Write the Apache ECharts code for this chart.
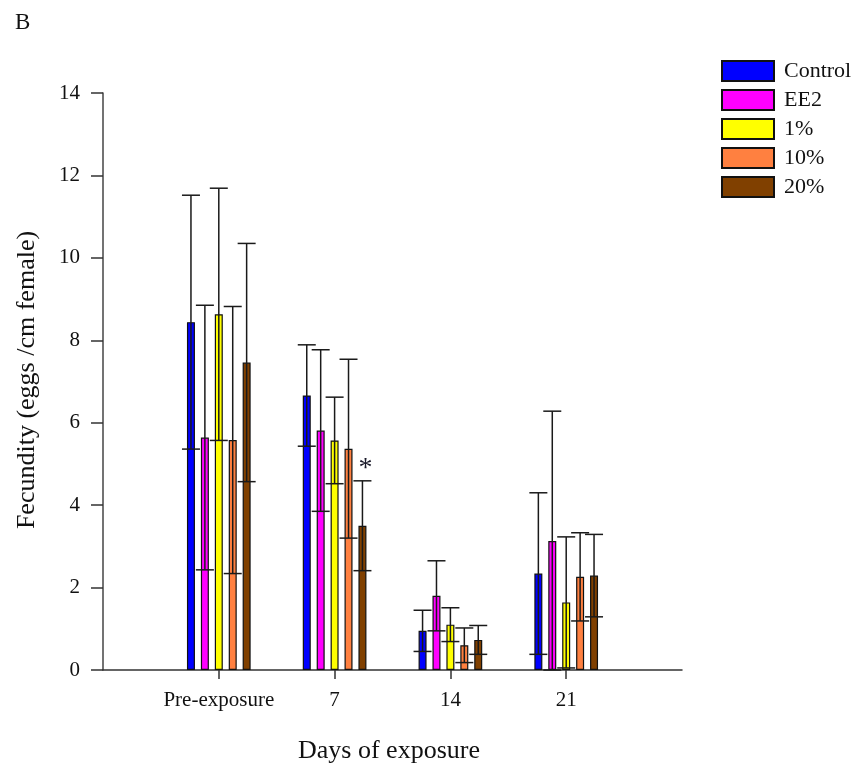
<!DOCTYPE html>
<html>
<head>
<meta charset="utf-8">
<title>Fecundity by days of exposure</title>
<script src="https://cdn.jsdelivr.net/npm/echarts@6/dist/echarts.min.js"></script>
<style>
  html, body { margin: 0; padding: 0; background: #fff; }
  #chart { width: 861px; height: 770px; }
</style>
</head>
<body>
<div id="chart"></div>
<script>
// Sampling days (x categories)
const days = ['Pre-exposure', '7', '14', '21'];
// Treatment groups, in legend order
const groups = ['Control', 'EE2', '1%', '10%', '20%'];

// Mean fecundity (eggs / cm female) and standard deviation per group
const controlMean = [8.44, 6.66, 0.95, 2.34];
const controlSD   = [3.08, 1.23, 0.50, 1.96];
const ee2Mean     = [5.64, 5.81, 1.80, 3.13];
const ee2SD       = [3.21, 1.96, 0.85, 3.15];
const pct1Mean    = [8.63, 5.57, 1.10, 1.64];
const pct1SD      = [3.06, 1.05, 0.41, 1.59];
const pct10Mean   = [5.58, 5.37, 0.60, 2.26];
const pct10SD     = [3.24, 2.17, 0.42, 1.07];
const pct20Mean   = [7.46, 3.50, 0.73, 2.29];
const pct20SD     = [2.89, 1.09, 0.35, 1.00];

// Significance marks above the error bars
const controlMarks = ['', '', '', ''];
const ee2Marks     = ['', '', '', ''];
const pct1Marks    = ['', '', '', ''];
const pct10Marks   = ['', '', '', ''];
const pct20Marks   = ['', '*', '', ''];

// Y axis ticks
const yMin = 0, yMax = 14, yStep = 2;

const colors = ['#0000ff', '#ff00ff', '#ffff00', '#ff8040', '#804000'];
const means = [controlMean, ee2Mean, pct1Mean, pct10Mean, pct20Mean];
const sds = [controlSD, ee2SD, pct1SD, pct10SD, pct20SD];
const marks = [controlMarks, ee2Marks, pct1Marks, pct10Marks, pct20Marks];

const FONT = "'Liberation Serif', 'Times New Roman', serif";
const BAR_W = 8;
const BAR_GAP = 0.74;
const STEP = BAR_W * (1 + BAR_GAP);
const CAP = 9;

// Empty slots at both ends leave a margin of one category on each side
const axisCats = [''].concat(days, ['']);
const pad = arr => ['-'].concat(arr, ['-']);

const barSeries = groups.map((name, k) => ({
  name: name,
  type: 'bar',
  barWidth: BAR_W,
  barGap: (BAR_GAP * 100) + '%',
  itemStyle: { color: colors[k], borderColor: '#111', borderWidth: 1.2 },
  data: pad(means[k]),
  z: 2
}));

const errSeries = groups.map((name, k) => ({
  name: name,
  type: 'custom',
  z: 5,
  silent: true,
  data: means[k].map((m, i) => [i + 1, Math.max(0, m - sds[k][i]), m + sds[k][i]]),
  encode: { x: 0, y: [1, 2] },
  renderItem: function (params, api) {
    const x = api.value(0);
    const top = api.coord([x, api.value(2)]);
    const bot = api.coord([x, api.value(1)]);
    const cx = top[0] + (k - (groups.length - 1) / 2) * STEP;
    const style = { stroke: '#1a1a1a', lineWidth: 1.5 };
    const children = [
      { type: 'line', shape: { x1: cx, y1: top[1], x2: cx, y2: bot[1] }, style: style },
      { type: 'line', shape: { x1: cx - CAP, y1: top[1], x2: cx + CAP, y2: top[1] }, style: style },
      { type: 'line', shape: { x1: cx - CAP, y1: bot[1], x2: cx + CAP, y2: bot[1] }, style: style }
    ];
    const mark = marks[k][x - 1];
    if (mark) {
      children.push({
        type: 'text',
        style: {
          x: cx + 3, y: top[1] + 2, text: mark,
          fill: '#1a1a2a', font: '28px ' + FONT,
          textAlign: 'center', textVerticalAlign: 'bottom'
        }
      });
    }
    return { type: 'group', children: children };
  }
}));

const chart = echarts.init(document.getElementById('chart'), null, { renderer: 'canvas' });
chart.setOption({
  backgroundColor: '#ffffff',
  animation: false,
  grid: { left: 103, top: 93, width: 579, height: 577, containLabel: false },
  legend: {
    data: groups,
    orient: 'vertical',
    left: 721,
    top: 60,
    padding: 0,
    itemWidth: 52,
    itemHeight: 20,
    itemGap: 7,
    icon: 'rect',
    textStyle: { fontFamily: FONT, fontSize: 22, color: '#111', lineHeight: 20, padding: [0, 0, 0, 5] }
  },
  xAxis: {
    type: 'category',
    data: axisCats,
    boundaryGap: false,
    axisLine: { lineStyle: { color: '#333', width: 1.5 } },
    axisTick: {
      length: 9,
      interval: (idx, val) => val !== '',
      lineStyle: { color: '#333', width: 1.5 }
    },
    axisLabel: { fontFamily: FONT, fontSize: 21, color: '#111', margin: 20, interval: 0 },
    splitLine: { show: false }
  },
  yAxis: {
    type: 'value',
    min: yMin,
    max: yMax,
    interval: yStep,
    axisLine: { show: true, lineStyle: { color: '#444', width: 1.5 } },
    axisTick: { show: true, length: 12, lineStyle: { color: '#333', width: 1.5 } },
    axisLabel: { fontFamily: FONT, fontSize: 21, color: '#111', margin: 23 },
    splitLine: { show: false }
  },
  graphic: [
    { type: 'text', left: 15, top: 11, style: { text: 'B', font: '23px ' + FONT, fill: '#111' } },
    {
      type: 'text', x: 27, y: 380, rotation: Math.PI / 2,
      style: { text: 'Fecundity (eggs /cm female)', font: '26px ' + FONT, fill: '#111', textAlign: 'center', textVerticalAlign: 'middle' }
    },
    {
      type: 'text', x: 389, y: 751,
      style: { text: 'Days of exposure', font: '26px ' + FONT, fill: '#111', textAlign: 'center', textVerticalAlign: 'middle' }
    }
  ],
  series: barSeries.concat(errSeries)
});
</script>
</body>
</html>
